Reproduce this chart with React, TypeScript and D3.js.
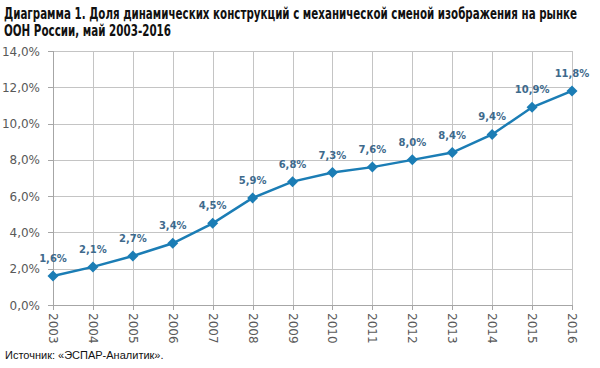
import React, { useEffect, useRef } from 'react'
import * as d3 from 'd3'

const years = ['2003', '2004', '2005', '2006', '2007', '2008', '2009', '2010', '2011', '2012', '2013', '2014', '2015', '2016']
const shares = [1.6, 2.1, 2.7, 3.4, 4.5, 5.9, 6.8, 7.3, 7.6, 8.0, 8.4, 9.4, 10.9, 11.8]
const yTicks = [0, 2, 4, 6, 8, 10, 12, 14]

const titleLines = [
  'Диаграмма 1. Доля динамических конструкций с механической сменой изображения на рынке',
  'ООН России, май 2003-2016'
]
const titleWidths = [573, 167]
const sourceText = 'Источник: «ЭСПАР-Аналитик».'

const fmt = (v: number) => v.toFixed(1).replace('.', ',') + '%'

function Chart() {
  const ref = useRef<SVGSVGElement | null>(null)

  useEffect(() => {
    const svg = d3.select(ref.current)
    svg.selectAll('*').remove()

    const x = d3.scalePoint<string>().domain(years).range([53, 572])
    const y = d3.scaleLinear().domain([0, 14]).range([305, 51])

    // title - condensed heavy look via textLength
    titleLines.forEach((t, i) => {
      svg.append('text')
        .attr('x', 4)
        .attr('y', 19 + i * 17)
        .attr('textLength', titleWidths[i])
        .attr('lengthAdjust', 'spacingAndGlyphs')
        .attr('font-family', '"DejaVu Sans Condensed", "DejaVu Sans", sans-serif')
        .attr('font-weight', 'bold')
        .attr('font-size', 16)
        .attr('fill', '#111')
        .text(t)
    })

    const grid = svg.append('g').attr('stroke', '#c4c4c4').attr('stroke-width', 1)
    // horizontal grid
    grid.selectAll('line.h')
      .data(yTicks.filter(d => d > 0))
      .enter()
      .append('line')
      .attr('x1', 53).attr('x2', 572)
      .attr('y1', d => Math.round(y(d)) + 0.5)
      .attr('y2', d => Math.round(y(d)) + 0.5)
    // vertical grid
    grid.selectAll('line.v')
      .data(years.slice(1))
      .enter()
      .append('line')
      .attr('x1', d => Math.round(x(d)!) + 0.5)
      .attr('x2', d => Math.round(x(d)!) + 0.5)
      .attr('y1', y(14)).attr('y2', y(0))

    // axes
    const axes = svg.append('g').attr('stroke', '#a6a6a6').attr('stroke-width', 1)
    axes.append('line').attr('x1', 53.5).attr('x2', 53.5).attr('y1', y(14)).attr('y2', y(0) + 5)
    axes.append('line').attr('x1', 48).attr('x2', 572).attr('y1', Math.round(y(0)) + 0.5).attr('y2', Math.round(y(0)) + 0.5)
    axes.selectAll('line.yt')
      .data(yTicks)
      .enter()
      .append('line')
      .attr('x1', 48).attr('x2', 53)
      .attr('y1', d => Math.round(y(d)) + 0.5)
      .attr('y2', d => Math.round(y(d)) + 0.5)
    axes.selectAll('line.xt')
      .data(years)
      .enter()
      .append('line')
      .attr('x1', d => Math.round(x(d)!) + 0.5)
      .attr('x2', d => Math.round(x(d)!) + 0.5)
      .attr('y1', y(0)).attr('y2', y(0) + 5)

    // y labels
    svg.append('g')
      .selectAll('text')
      .data(yTicks)
      .enter()
      .append('text')
      .attr('x', 40)
      .attr('y', d => y(d) + 4.5)
      .attr('text-anchor', 'end')
      .attr('font-family', '"DejaVu Sans", sans-serif')
      .attr('font-size', 12)
      .attr('fill', '#595959')
      .text(d => fmt(d))

    // x labels, rotated
    svg.append('g')
      .selectAll('text')
      .data(years)
      .enter()
      .append('text')
      .attr('transform', d => `translate(${x(d)! - 4},313) rotate(90)`)
      .attr('font-family', '"DejaVu Sans", sans-serif')
      .attr('font-size', 12)
      .attr('fill', '#595959')
      .text(d => d)

    // line
    const line = d3.line<number>()
      .x((d, i) => x(years[i])!)
      .y(d => y(d))
    svg.append('path')
      .datum(shares)
      .attr('d', line)
      .attr('fill', 'none')
      .attr('stroke', '#1b7db5')
      .attr('stroke-width', 2.5)

    // diamond markers
    svg.append('g')
      .selectAll('path')
      .data(shares)
      .enter()
      .append('path')
      .attr('d', 'M0,-5.5L5.5,0L0,5.5L-5.5,0Z')
      .attr('transform', (d, i) => `translate(${x(years[i])},${y(d)})`)
      .attr('fill', '#1b7db5')

    // data labels
    svg.append('g')
      .selectAll('text')
      .data(shares)
      .enter()
      .append('text')
      .attr('x', (d, i) => x(years[i])!)
      .attr('y', d => y(d) - 14)
      .attr('text-anchor', 'middle')
      .attr('font-family', '"DejaVu Sans", sans-serif')
      .attr('font-weight', 'bold')
      .attr('font-size', 10)
      .attr('fill', '#3e6a8c')
      .text(d => fmt(d))

    svg.append('text')
      .attr('x', 5)
      .attr('y', 359)
      .attr('font-family', '"Liberation Sans", Arial, sans-serif')
      .attr('font-size', 11)
      .attr('fill', '#111')
      .text(sourceText)
  }, [])

  return <svg ref={ref} width={600} height={368} style={{ display: 'block', background: '#fff' }} />
}

export default function App() {
  return (
    <div style={{ position: 'absolute', left: 0, top: 0 }}>
      <Chart />
    </div>
  )
}
